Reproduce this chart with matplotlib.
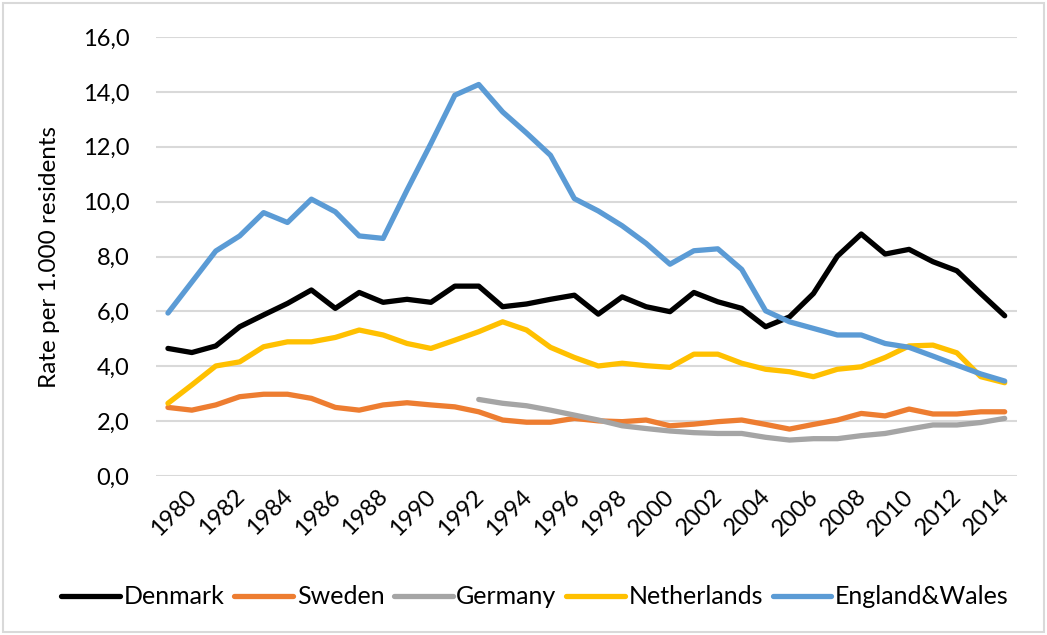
import numpy as np
import matplotlib.pyplot as plt
from matplotlib.patches import Rectangle
from matplotlib.transforms import ScaledTranslation

plt.rcParams['font.family'] = ['Lato', 'DejaVu Sans']

years = list(range(1980, 2016))

denmark = [4.65, 4.50, 4.74, 5.44, 5.87, 6.29, 6.78, 6.11, 6.69, 6.33, 6.44, 6.33,
           6.92, 6.92, 6.17, 6.27, 6.44, 6.59, 5.90, 6.53, 6.17, 5.99, 6.69, 6.35,
           6.11, 5.44, 5.80, 6.65, 8.01, 8.82, 8.09, 8.26, 7.81, 7.48, 6.65, 5.84]
sweden = [2.50, 2.40, 2.59, 2.89, 2.98, 2.98, 2.83, 2.50, 2.40, 2.59, 2.67, 2.59,
          2.52, 2.34, 2.04, 1.96, 1.96, 2.10, 2.01, 1.98, 2.04, 1.83, 1.89, 1.98,
          2.04, 1.88, 1.71, 1.88, 2.04, 2.28, 2.19, 2.44, 2.26, 2.26, 2.34, 2.34]
# no German figures before 1993
germany = [np.nan] * 13 + [2.79, 2.65, 2.56, 2.40, 2.22, 2.04, 1.83, 1.73, 1.64, 1.58, 1.55,
                           1.55, 1.41, 1.31, 1.36, 1.36, 1.47, 1.55, 1.71, 1.86, 1.86, 1.95, 2.10]
netherlands = [2.65, 3.32, 4.01, 4.16, 4.71, 4.89, 4.89, 5.05, 5.32, 5.14, 4.83, 4.65,
               4.95, 5.26, 5.62, 5.32, 4.69, 4.32, 4.01, 4.11, 4.02, 3.96, 4.44, 4.44,
               4.11, 3.89, 3.80, 3.62, 3.89, 3.98, 4.32, 4.74, 4.77, 4.49, 3.62, 3.40]
england_wales = [5.94, 7.07, 8.20, 8.75, 9.60, 9.24, 10.09, 9.63, 8.75, 8.66, 10.42, 12.12,
                 13.88, 14.27, 13.27, 12.50, 11.69, 10.11, 9.66, 9.12, 8.48, 7.72, 8.21, 8.28,
                 7.53, 6.02, 5.62, 5.38, 5.14, 5.14, 4.83, 4.69, 4.37, 4.04, 3.72, 3.46]

series = [("Denmark", denmark, "#000000"),
          ("Sweden", sweden, "#ED7D31"),
          ("Germany", germany, "#A5A5A5"),
          ("Netherlands", netherlands, "#FFC000"),
          ("England&Wales", england_wales, "#5B9BD5")]

fig = plt.figure(figsize=(10.47, 6.35), dpi=100)
ax = fig.add_axes([0.149, 0.2504, 0.822, 0.6913])

for name, vals, col in series:
    ax.plot(years, vals, color=col, lw=3.8, label=name,
            solid_joinstyle='round', solid_capstyle='round')

ax.set_xlim(1979.5, 2015.5)
ax.set_ylim(0, 16)
ax.set_yticks(np.arange(0, 17, 2))
ax.set_yticklabels([("%.1f" % v).replace('.', ',') for v in np.arange(0, 17, 2)])
ax.set_xticks(years[::2])
ax.set_xticklabels([str(y) for y in years[::2]], rotation=45, ha='center', va='top')

ax.grid(axis='y', color='#d9d9d9', lw=1.5)
ax.set_axisbelow(True)
for s in ax.spines.values():
    s.set_visible(False)
ax.tick_params(axis='both', length=0, labelsize=17, colors='#000000')
ax.tick_params(axis='y', pad=19)
ax.tick_params(axis='x', pad=7)

# nudge the slanted year labels a little to the right
shift = ScaledTranslation(6 / 100, 0, fig.dpi_scale_trans)
for lbl in ax.get_xticklabels():
    lbl.set_transform(lbl.get_transform() + shift)

ax.set_ylabel("Rate per 1.000 residents", fontsize=17.5)
ax.yaxis.set_label_coords(-0.112, 0.5)

ax.legend(loc='center', bbox_to_anchor=(0.511, 0.06), bbox_transform=fig.transFigure,
          ncol=5, frameon=False, fontsize=18, handlelength=2.35, handletextpad=0.15,
          columnspacing=0.38)

fig.patches.append(Rectangle((0.003, 0.004), 0.994, 0.992, transform=fig.transFigure,
                             fill=False, edgecolor='#d9d9d9', lw=1.5))

fig.savefig("out.png", dpi=100)
